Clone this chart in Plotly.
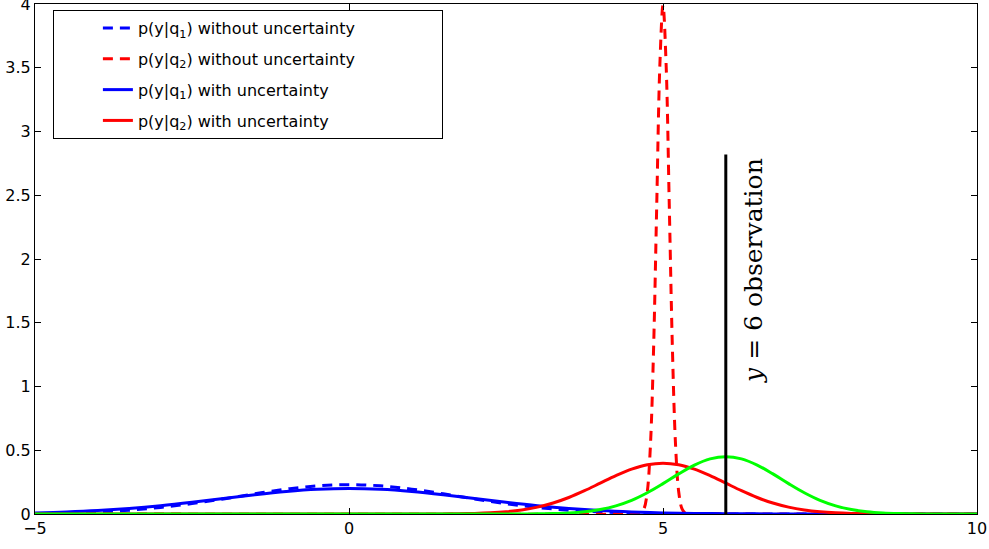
import plotly.graph_objects as go

# ---- data ----
x_blue = [-5, -4.5, -4, -3.5, -3, -2.5, -2, -1.5, -1, -0.5, 0, 0.5, 1, 1.5, 2, 2.5, 3,
          3.5, 4, 4.5, 5, 5.5, 6, 6.5, 7, 7.5, 8, 8.5, 9, 9.5, 10]
blue_without = [0.0036, 0.0079, 0.016, 0.0299, 0.0514, 0.0813, 0.1182, 0.1583, 0.195, 0.2209,
                0.2303, 0.2209, 0.195, 0.1583, 0.1182, 0.0813, 0.0514, 0.0299, 0.016, 0.0079,
                0.0036, 0.0015, 0.0006, 0.0002, 0.0001, 0, 0, 0, 0, 0, 0]
blue_with = [0.0088, 0.0159, 0.027, 0.0432, 0.0648, 0.0913, 0.121, 0.1506, 0.176, 0.1934,
             0.1995, 0.1934, 0.176, 0.1506, 0.121, 0.0913, 0.0648, 0.0432, 0.027, 0.0159,
             0.0088, 0.0045, 0.0022, 0.001, 0.0004, 0.0002, 0.0001, 0, 0, 0, 0]

x_red_without = [-5, 4.5, 4.6, 4.65, 4.7, 4.75, 4.8, 4.85, 4.9, 4.95, 5.0, 5.05, 5.1, 5.15,
                 5.2, 5.25, 5.3, 5.35, 5.4, 5.5, 10]
red_without = [0, 0, 0.0013, 0.0087, 0.0443, 0.175, 0.54, 1.295, 2.419, 3.52, 3.989, 3.52,
               2.419, 1.295, 0.54, 0.175, 0.0443, 0.0087, 0.0013, 0, 0]

x_red_with = [-5, 0, 1, 1.25, 1.5, 1.75, 2, 2.25, 2.5, 2.75, 3, 3.25, 3.5, 3.75, 4, 4.25, 4.5,
              4.75, 5, 5.25, 5.5, 5.75, 6, 6.25, 6.5, 6.75, 7, 7.25, 7.5, 7.75, 8, 8.25, 8.5,
              8.75, 9, 10]
red_with = [0, 0, 0.0001, 0.0004, 0.0009, 0.002, 0.0044, 0.0091, 0.0175, 0.0317, 0.054, 0.0863,
            0.1295, 0.1826, 0.242, 0.3011, 0.352, 0.3867, 0.399, 0.3867, 0.352, 0.3011, 0.242,
            0.1826, 0.1295, 0.0863, 0.054, 0.0317, 0.0175, 0.0091, 0.0044, 0.002, 0.0009,
            0.0004, 0.0001, 0]

x_green = [-5, 2, 2.25, 2.5, 2.75, 3, 3.25, 3.5, 3.75, 4, 4.25, 4.5, 4.75, 5, 5.25, 5.5, 5.75,
           6, 6.25, 6.5, 6.75, 7, 7.25, 7.5, 7.75, 8, 8.25, 8.5, 8.75, 9, 9.25, 9.5, 9.75, 10]
green = [0, 0, 0.0001, 0.0002, 0.0005, 0.0015, 0.0036, 0.0084, 0.0179, 0.0352, 0.064, 0.107,
         0.1664, 0.238, 0.3145, 0.384, 0.4324, 0.45, 0.4324, 0.384, 0.3145, 0.238, 0.1664,
         0.107, 0.064, 0.0352, 0.0179, 0.0084, 0.0036, 0.0015, 0.0005, 0.0002, 0.0001, 0]

obs_x = [6, 6]
obs_y = [0, 2.82]
obs_label = "<i>y</i> = 6 observation"

x_ticks = [-5, 0, 5, 10]
y_ticks = [0, 0.5, 1, 1.5, 2, 2.5, 3, 3.5, 4]
y_tick_labels = ["0", "0.5", "1", "1.5", "2", "2.5", "3", "3.5", "4"]

NB = "\u00a0"
names = ["p(y|q<sub>1</sub>) without uncertainty" + NB * 16,
         "p(y|q<sub>2</sub>) without uncertainty",
         "p(y|q<sub>1</sub>) with uncertainty",
         "p(y|q<sub>2</sub>) with uncertainty"]

BLUE = "#0000ff"
RED = "#ff0000"
GREEN = "#00ff00"
DASH = "10px,7px"

fig = go.Figure()
fig.add_trace(go.Scatter(x=x_blue, y=blue_without, mode="lines", name=names[0], legendgroup="a",
                         line=dict(color=BLUE, width=3, dash=DASH, shape="spline")))
fig.add_trace(go.Scatter(x=x_red_without, y=red_without, mode="lines", name=names[1], legendgroup="b",
                         line=dict(color=RED, width=3, dash=DASH, shape="spline")))
fig.add_trace(go.Scatter(x=x_blue, y=blue_with, mode="lines", name=names[2], legendgroup="c",
                         line=dict(color=BLUE, width=3, shape="spline")))
fig.add_trace(go.Scatter(x=x_red_with, y=red_with, mode="lines", name=names[3], legendgroup="d",
                         line=dict(color=RED, width=3, shape="spline")))
fig.add_trace(go.Scatter(x=x_green, y=green, mode="lines", showlegend=False,
                         line=dict(color=GREEN, width=3, shape="spline")))
fig.add_trace(go.Scatter(x=obs_x, y=obs_y, mode="lines", showlegend=False,
                         line=dict(color="black", width=3)))

fig.add_annotation(x=6.44, y=1.91, text=obs_label, showarrow=False, textangle=-90,
                   font=dict(family="DejaVu Serif", size=25, color="black"))

axis_common = dict(showline=True, linecolor="black", linewidth=1, mirror="ticks",
                   ticks="inside", ticklen=6, tickcolor="black", showgrid=False,
                   zeroline=False, automargin=False, ticklabeloverflow="allow",
                   tickfont=dict(family="DejaVu Sans", size=16, color="black"))

fig.update_xaxes(range=[-5, 10], tickvals=x_ticks, **axis_common)
fig.update_yaxes(range=[0, 4], tickvals=y_ticks, ticktext=y_tick_labels, **axis_common)

fig.update_layout(
    width=989, height=549,
    margin=dict(l=35, r=12, t=4, b=35),
    plot_bgcolor="white", paper_bgcolor="white",
    font=dict(family="DejaVu Sans", size=16, color="black"),
    legend=dict(x=0.019, y=0.988, xanchor="left", yanchor="top",
                bgcolor="white", bordercolor="black", borderwidth=1,
                indentation=44, tracegroupgap=7,
                font=dict(family="DejaVu Sans", size=16, color="black")),
)

fig.write_html("out.html", config={"displayModeBar": False},
               post_script="document.body.style.margin='0';document.body.style.overflow='hidden';")
